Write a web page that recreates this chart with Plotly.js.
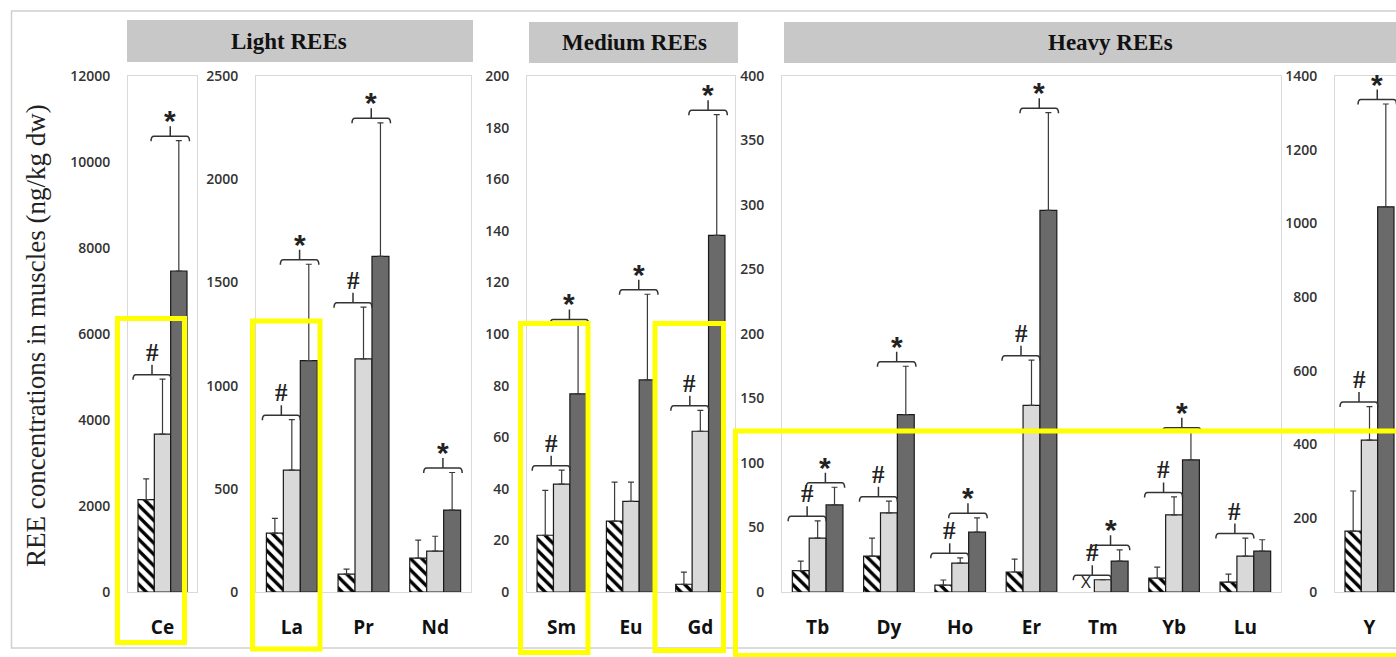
<!DOCTYPE html>
<html><head><meta charset="utf-8">
<script src="https://cdn.plot.ly/plotly-3.0.1.min.js"></script>
<style>html,body{margin:0;padding:0;background:#fff}#chart{width:1396px;height:657px}</style>
</head><body><div id="chart"></div>
<script>
// ---------------- DATA ----------------
// series A = hatched, series B = light grey, series C = dark grey ; *Sd = upper error (SD)
const ceCats = ['Ce'];
const ceA = [2150];  const ceASd = [480];
const ceB = [3670];  const ceBSd = [1280];
const ceC = [7465];  const ceCSd = [3030];
const ceHash = [1];  const ceStar = [1];

const lightCats = ['La', 'Pr', 'Nd'];
const lightA = [285, 87, 164];    const lightASd = [72, 24, 87];
const lightB = [590, 1129, 198];  const lightBSd = [245, 251, 72];
const lightC = [1121, 1626, 397]; const lightCSd = [467, 647, 182];
const lightHash = [1, 1, 0];      const lightStar = [1, 1, 1];

const medCats = ['Sm', 'Eu', 'Gd'];
const medA = [22, 27.5, 3];        const medASd = [17.4, 15.1, 4.7];
const medB = [41.8, 35.1, 62.3];   const medBSd = [5.4, 7.5, 8.1];
const medC = [76.8, 82.2, 138.2];  const medCSd = [27.1, 33.2, 46.8];
const medHash = [1, 0, 1];         const medStar = [1, 1, 1];

const heavyCats = ['Tb', 'Dy', 'Ho', 'Er', 'Tm', 'Yb', 'Lu'];
const heavyA = [16.5, 27.8, 5.4, 15.5, null, 10.8, 7.7];  const heavyASd = [7.5, 14, 3.9, 10, 0, 8.5, 6.2];
const heavyB = [41.8, 61.4, 22.4, 144.7, 9.5, 59.8, 27.8]; const heavyBSd = [13.4, 9, 4.1, 35, 0, 13.9, 14];
const heavyC = [67.5, 137.5, 46.4, 295.8, 24, 102.4, 31.7]; const heavyCSd = [13.7, 37.5, 11.1, 75.8, 8.7, 21.4, 8.8];
const heavyHash = [1, 1, 1, 1, 1, 1, 1];  const heavyStar = [1, 1, 1, 1, 1, 1, 0];
const heavyNotDetectedA = [0, 0, 0, 0, 1, 0, 0];

const yCats = ['Y'];
const yA = [165];   const yASd = [109];
const yB = [412];   const yBSd = [91];
const yC = [1045];  const yCSd = [279];
const yHash = [1];  const yStar = [1];

const yTitle = 'REE concentrations in muscles (ng/kg dw)';
const groupTitles = ['Light REEs', 'Medium REEs', 'Heavy REEs'];

// ---------------- LAYOUT / STYLE ----------------
const W = 1396, H = 657;
const PT = 76, PB = 592, PH = PB - PT;
const px = x => x / W, py = y => 1 - y / H;

const panels = [
  {cats: ceCats, a: ceA, aSd: ceASd, b: ceB, bSd: ceBSd, c: ceC, cSd: ceCSd, hash: ceHash, star: ceStar, nd: null, ymax: 12000, dtick: 2000, x0: 128, x1: 197},
  {cats: lightCats, a: lightA, aSd: lightASd, b: lightB, bSd: lightBSd, c: lightC, cSd: lightCSd, hash: lightHash, star: lightStar, nd: null, ymax: 2500, dtick: 500, x0: 256, x1: 471},
  {cats: medCats, a: medA, aSd: medASd, b: medB, bSd: medBSd, c: medC, cSd: medCSd, hash: medHash, star: medStar, nd: null, ymax: 200, dtick: 20, x0: 527, x1: 735},
  {cats: heavyCats, a: heavyA, aSd: heavyASd, b: heavyB, bSd: heavyBSd, c: heavyC, cSd: heavyCSd, hash: heavyHash, star: heavyStar, nd: heavyNotDetectedA, ymax: 400, dtick: 50, x0: 782, x1: 1281},
  {cats: yCats, a: yA, aSd: yASd, b: yB, bSd: yBSd, c: yC, cSd: yCSd, hash: yHash, star: yStar, nd: null, ymax: 1400, dtick: 200, x0: 1335, x1: 1396, catPx: 69, open: true}
];

const BARGAP = 0.29;
const barW = (1 - BARGAP) / 3;
const tickFont = {family: 'Open Sans, Noto Sans, sans-serif', size: 14, color: '#333', weight: 600};
const catFont = {family: 'Open Sans, Noto Sans, sans-serif', size: 19, color: '#111', weight: 700};
const frameColor = '#d9d9d9';
const errStyle = {color: '#3a3a3a', thickness: 1.2, width: 3};
const barLine = {color: '#1a1a1a', width: 1.2};

const data = [];
const layout = {
  width: W, height: H, margin: {l: 0, r: 0, t: 0, b: 0},
  paper_bgcolor: '#fff', plot_bgcolor: '#fff', showlegend: false,
  barmode: 'group', bargap: BARGAP, bargroupgap: 0,
  shapes: [], annotations: []
};

panels.forEach((p, i) => {
  const s = i === 0 ? '' : String(i + 1);
  const xr = 'x' + s, yr = 'y' + s;
  const n = p.cats.length;
  const widthPx = p.x1 - p.x0;
  const catPx = p.catPx || widthPx / n;
  const xrange = p.open ? [-0.5, -0.5 + widthPx / catPx] : [-0.5, n - 0.5];
  layout['xaxis' + s] = {
    domain: [px(p.x0), px(p.x1)], anchor: yr, type: 'category',
    categoryorder: 'array', categoryarray: p.cats, range: xrange,
    showline: true, mirror: true, linecolor: frameColor, linewidth: 1,
    showgrid: false, zeroline: false, ticks: '', ticklabelstandoff: 18,
    tickfont: catFont, fixedrange: true
  };
  layout['yaxis' + s] = {
    domain: [py(PB), py(PT)], anchor: xr, range: [0, p.ymax], dtick: p.dtick, tick0: 0, tickformat: 'd',
    showline: true, mirror: !p.open, linecolor: frameColor, linewidth: 1,
    showgrid: false, zeroline: false, ticks: '', ticklabelstandoff: 14,
    tickfont: tickFont, fixedrange: true
  };
  const zeros = p.cats.map(() => 0);
  data.push({
    type: 'bar', name: 'Group A', x: p.cats, y: p.a, xaxis: xr, yaxis: yr,
    marker: {color: '#fff', pattern: {shape: '\\', fgcolor: '#000', bgcolor: '#fff', size: 8, solidity: 0.42}, line: barLine},
    error_y: Object.assign({type: 'data', symmetric: false, array: p.aSd, arrayminus: zeros}, errStyle)
  });
  data.push({
    type: 'bar', name: 'Group B', x: p.cats, y: p.b, xaxis: xr, yaxis: yr,
    marker: {color: '#d9d9d9', line: barLine},
    error_y: Object.assign({type: 'data', symmetric: false, array: p.bSd, arrayminus: zeros}, errStyle)
  });
  data.push({
    type: 'bar', name: 'Group C', x: p.cats, y: p.c, xaxis: xr, yaxis: yr,
    marker: {color: '#6a6a6a', line: barLine},
    error_y: Object.assign({type: 'data', symmetric: false, array: p.cSd, arrayminus: zeros}, errStyle)
  });

  // significance brackets
  const yPerPx = p.ymax / PH, xPerPx = 1 / catPx;
  const f = v => v.toFixed(5);
  const top = (v, sd) => (v == null ? 0 : v + (sd || 0));
  function bracket(xc, o0, o1, yTopVal, sym) {
    const x0 = xc + o0 * xPerPx, x1 = xc + o1 * xPerPx, xm = (x0 + x1) / 2;
    const yb = yTopVal + 4.5 * yPerPx;
    const d = 5 * yPerPx, r = 3 * xPerPx, t = 10 * yPerPx;
    const path = `M ${f(x0)},${f(yb - d)} Q ${f(x0)},${f(yb)} ${f(x0 + r)},${f(yb)} L ${f(x1 - r)},${f(yb)} Q ${f(x1)},${f(yb)} ${f(x1)},${f(yb - d)} M ${f(xm)},${f(yb)} L ${f(xm)},${f(yb + t)}`;
    layout.shapes.push({type: 'path', xref: xr, yref: yr, path: path, line: {color: '#333', width: 1.5}});
    layout.annotations.push({
      x: xm, y: yb, xref: xr, yref: yr, text: sym, showarrow: false,
      xanchor: 'center', yanchor: 'bottom', yshift: sym === '#' ? 7 : -3,
      font: sym === '#' ? {family: 'Liberation Serif, serif', size: 25, color: '#222', weight: 700}
                        : {family: 'Liberation Sans, Arial, sans-serif', size: 30, color: '#222', weight: 700}
    });
  }
  p.cats.forEach((c, k) => {
    if (p.hash[k]) bracket(k, -29.5, 8.5, Math.max(top(p.a[k], p.aSd[k]), top(p.b[k], p.bSd[k])), '#');
    if (p.star[k]) bracket(k, -11.5, 27, Math.max(top(p.b[k], p.bSd[k]), top(p.c[k], p.cSd[k])), '*');
    if (p.nd && p.nd[k]) {
      layout.annotations.push({x: k - barW, y: 0, xref: xr, yref: yr, text: 'X', showarrow: false,
        xanchor: 'center', yanchor: 'bottom', yshift: -3,
        font: {family: 'Open Sans, sans-serif', size: 17, color: '#222'}});
    }
  });
});

// outer frame
layout.shapes.push({type: 'rect', xref: 'paper', yref: 'paper', x0: px(11.5), x1: px(1410), y0: py(648), y1: py(11),
  line: {color: '#d0d0d0', width: 1.5}, layer: 'below'});
// group header boxes
const headers = [[127, 473, 20, 62, 289, 41], [529, 738, 22, 63, 634, 42], [784, 1410, 22, 63, 1110, 42]];
headers.forEach((h, i) => {
  layout.shapes.push({type: 'rect', xref: 'paper', yref: 'paper', x0: px(h[0]), x1: px(h[1]), y0: py(h[3]), y1: py(h[2]),
    fillcolor: '#c8c8c8', line: {width: 0}, layer: 'below'});
  layout.annotations.push({x: px(h[4]), y: py(h[5]), xref: 'paper', yref: 'paper', text: groupTitles[i], showarrow: false,
    xanchor: 'center', yanchor: 'middle',
    font: {family: 'Liberation Serif, serif', size: 23, color: '#111', weight: 700}});
});
// y title
layout.annotations.push({x: px(36), y: py(336), xref: 'paper', yref: 'paper', text: yTitle, textangle: -90, showarrow: false,
  xanchor: 'center', yanchor: 'middle', font: {family: 'Liberation Serif, serif', size: 27, color: '#222'}});
// yellow highlight rectangles
const yellow = [[117.5, 184.5, 318.5, 642.5], [252.5, 320, 321, 649], [520.5, 588, 323.5, 652.5], [655, 723.5, 323.5, 650.5], [735.5, 1410, 431, 655.5]];
yellow.forEach(r => layout.shapes.push({type: 'rect', xref: 'paper', yref: 'paper', x0: px(r[0]), x1: px(r[1]), y0: py(r[3]), y1: py(r[2]),
  line: {color: '#ffff00', width: 5}, layer: 'above'}));

Plotly.newPlot('chart', data, layout, {staticPlot: true, displayModeBar: false});
</script>
</body></html>
